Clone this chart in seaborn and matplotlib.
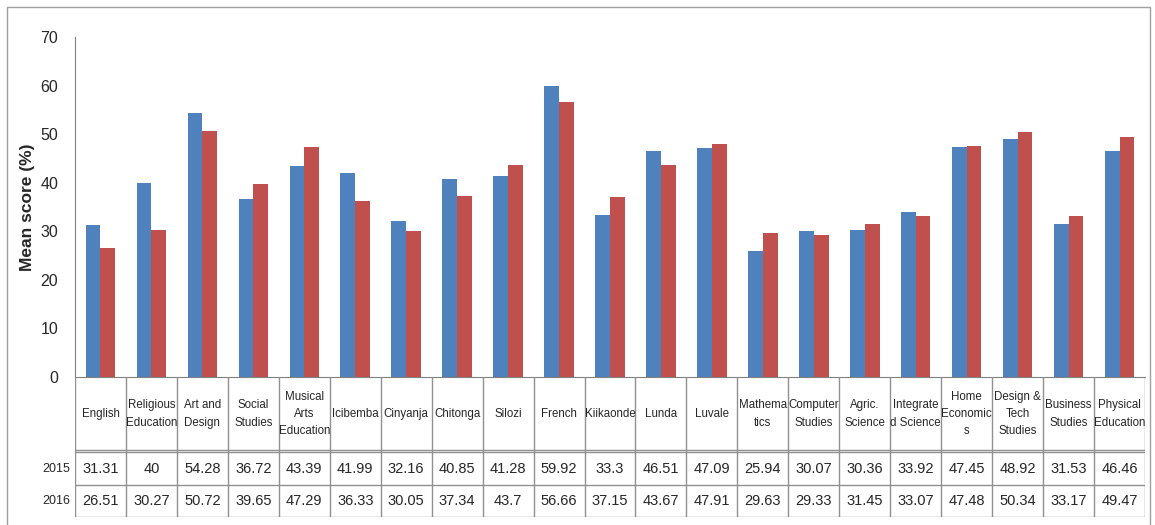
import matplotlib.pyplot as plt
import matplotlib.patches as mpatches
import pandas as pd
import seaborn as sns

subjects = [
    "English", "Religious\nEducation", "Art and\nDesign", "Social\nStudies",
    "Musical\nArts\nEducation", "Icibemba", "Cinyanja", "Chitonga", "Silozi",
    "French", "Kiikaonde", "Lunda", "Luvale", "Mathema\ntics", "Computer\nStudies",
    "Agric.\nScience", "Integrate\nd Science", "Home\nEconomic\ns", "Design &\nTech\nStudies",
    "Business\nStudies", "Physical\nEducation",
]
scores_2015 = [31.31, 40, 54.28, 36.72, 43.39, 41.99, 32.16, 40.85, 41.28, 59.92,
               33.3, 46.51, 47.09, 25.94, 30.07, 30.36, 33.92, 47.45, 48.92, 31.53, 46.46]
scores_2016 = [26.51, 30.27, 50.72, 39.65, 47.29, 36.33, 30.05, 37.34, 43.7, 56.66,
               37.15, 43.67, 47.91, 29.63, 29.33, 31.45, 33.07, 47.48, 50.34, 33.17, 49.47]
years = ["2015", "2016"]
colors = ["#4F81BD", "#C0504D"]

sns.set_style("white")
plt.rcParams["font.family"] = ["Liberation Sans", "DejaVu Sans"]

n = len(subjects)
df = pd.DataFrame({
    "subject": list(range(n)) * 2,
    "year": [years[0]] * n + [years[1]] * n,
    "score": scores_2015 + scores_2016,
})

fig = plt.figure(figsize=(11.55, 5.25), dpi=100)
fig.patches.append(mpatches.Rectangle((7 / 1155, -0.1), 1143 / 1155, 1.1 - 7 / 525,
                                      transform=fig.transFigure, fill=False,
                                      edgecolor="#a0a0a0", linewidth=1))

ax = fig.add_axes([75 / 1155, 1 - 377 / 525, 1070 / 1155, 340 / 525])
sns.barplot(data=df, x="subject", y="score", hue="year", palette=colors,
            width=0.58, saturation=1, legend=False, linewidth=0, ax=ax)
ax.set_xlim(-0.5, n - 0.5)
ax.set_ylim(0, 70)
ax.set_yticks(range(0, 71, 10))
ax.tick_params(axis="y", labelsize=11.5, length=0, pad=12)
ax.set_xticks([])
ax.set_xlabel("")
ax.set_ylabel("Mean score (%)", fontsize=12.5, fontweight="bold", labelpad=4)
sns.despine(ax=ax, top=True, right=True)
ax.spines["left"].set_color("#808080")
ax.spines["bottom"].set_color("#808080")

# data table under the bars
tab = fig.add_axes([75 / 1155, 1 - 517 / 525, 1070 / 1155, 140 / 525])
tab.set_xlim(-0.5, n - 0.5)
tab.set_ylim(0, 140)
tab.axis("off")
line_kw = dict(color="#909090", linewidth=1)
for i in range(n + 1):
    tab.plot([i - 0.5, i - 0.5], [0, 140], **line_kw)
for yv in [32, 67]:
    tab.plot([-0.5, n - 0.5], [yv, yv], **line_kw)
left = -0.5 - 42 / 51
tab.plot([left, n - 0.5], [65, 65], **line_kw)
tab.plot([left, n - 0.5], [0, 0], **line_kw)
tab.plot([left, left], [0, 32], **line_kw)

for i, name in enumerate(subjects):
    tab.text(i, 103, name, ha="center", va="center", fontsize=8.3, linespacing=1.6)
    tab.text(i, 48, f"{scores_2015[i]:g}", ha="center", va="center", fontsize=10.5)
    tab.text(i, 16, f"{scores_2016[i]:g}", ha="center", va="center", fontsize=10.5)
tab.text(-0.6, 48, years[0], ha="right", va="center", fontsize=9)
tab.text(-0.6, 16, years[1], ha="right", va="center", fontsize=9)

fig.savefig("out.png", dpi=100)
